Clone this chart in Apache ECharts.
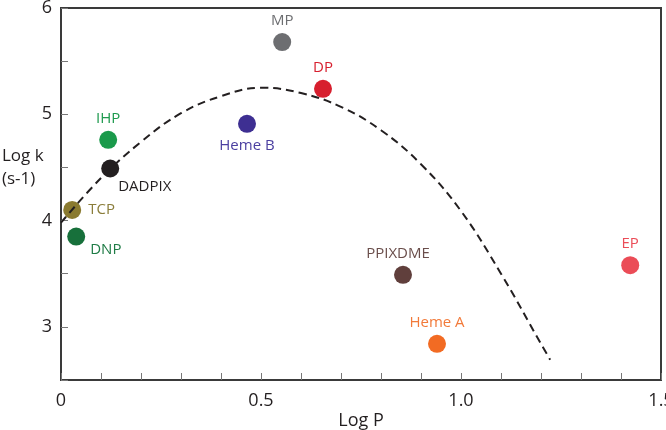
<!DOCTYPE html>
<html lang="en">
<head>
  <meta charset="UTF-8">
  <title>Log k vs Log P</title>
  <script src="https://cdn.jsdelivr.net/npm/echarts@6/dist/echarts.min.js"></script>
</head>
<body style="margin:0">
  <div id="main" style="width: 666px;height: 430px;"></div>
  <script>
    // compounds
    const names = ['MP', 'DP', 'IHP', 'DADPIX', 'Heme B', 'TCP', 'DNP', 'PPIXDME', 'Heme A', 'EP']
    const logP = [0.553, 0.655, 0.118, 0.123, 0.465, 0.028, 0.038, 0.855, 0.94, 1.423]
    const logK = [5.68, 5.24, 4.76, 4.49, 4.91, 4.10, 3.85, 3.49, 2.84, 3.58]

    // dashed trend curve
    const fitP = [0, 0.1, 0.2, 0.3, 0.4, 0.5, 0.6, 0.7, 0.8, 0.9, 1.0, 1.1, 1.2, 1.223]
    const fitK = [3.98, 4.40, 4.74, 5.01, 5.17, 5.25, 5.20, 5.07, 4.85, 4.53, 4.09, 3.50, 2.84, 2.69]

    const xTicks = ['0', '0.5', '1.0', '1.5']
    const yTicks = ['3', '4', '5', '6']

    // styling
    const dotColor = {
      'MP': '#6d6e71', 'DP': '#d71f2e', 'IHP': '#1a9a4b', 'DADPIX': '#231f20', 'Heme B': '#3e2f92',
      'TCP': '#8a7a30', 'DNP': '#17703b', 'PPIXDME': '#603f3c', 'Heme A': '#f26b23', 'EP': '#eb4c57'
    }
    const textColor = {
      'MP': '#6d6e71', 'DP': '#d71f2e', 'IHP': '#1e9a4e', 'DADPIX': '#231f20', 'Heme B': '#4b3fa0',
      'TCP': '#8a7d3a', 'DNP': '#1e7b45', 'PPIXDME': '#6a4e4b', 'Heme A': '#f27a3a', 'EP': '#eb4c57'
    }
    const labelPos = {
      'MP': { position: 'top' },
      'DP': { position: 'top' },
      'IHP': { position: 'top' },
      'DADPIX': { position: 'right', offset: [-6, 18] },
      'Heme B': { position: 'bottom' },
      'TCP': { position: 'right', distance: 7 },
      'DNP': { position: 'right', offset: [0, 13] },
      'PPIXDME': { position: 'top', offset: [-5, 0] },
      'Heme A': { position: 'top' },
      'EP': { position: 'top' }
    }

    const font = '"Open Sans", sans-serif'
    const axisColor = '#3a3a3a'

    const chart = echarts.init(document.getElementById('main'))

    const points = names.map((n, i) => ({
      name: n,
      value: [logP[i], logK[i]],
      itemStyle: { color: dotColor[n], opacity: 1 },
      label: Object.assign({ show: true, formatter: '{b}', color: textColor[n], fontSize: 15, fontFamily: font, distance: 5 }, labelPos[n])
    }))

    const option = {
      animation: false,
      grid: {
        left: 61, right: 5, top: 8, bottom: 50,
        outerBoundsMode: 'none',
        show: true, borderColor: axisColor, borderWidth: 2
      },
      xAxis: {
        type: 'value', min: 0, max: 1.5, interval: 0.1,
        name: 'Log P', nameLocation: 'middle', nameGap: 32, nameMoveOverlap: false,
        nameTextStyle: { fontSize: 18, fontFamily: font, color: '#231f20' },
        axisLine: { lineStyle: { color: axisColor, width: 2 } },
        axisTick: { inside: true, length: 7, lineStyle: { color: '#777' } },
        splitLine: { show: false },
        axisLabel: {
          fontSize: 18, fontFamily: font, color: '#231f20', margin: 12,
          formatter: v => {
            const t = Math.round(v * 10)
            return t % 5 === 0 ? xTicks[t / 5] : ''
          }
        }
      },
      yAxis: {
        type: 'value', min: 2.5, max: 6, interval: 0.5,
        axisLine: { show: true, lineStyle: { color: axisColor, width: 2 } },
        axisTick: { show: true, inside: true, length: 7, lineStyle: { color: '#777' } },
        splitLine: { show: false },
        axisLabel: {
          fontSize: 18, fontFamily: font, color: '#231f20', margin: 9,
          formatter: v => {
            const t = Math.round(v * 2)
            return t % 2 === 0 ? yTicks[t / 2 - 3] : ''
          }
        }
      },
      graphic: [{
        type: 'text', left: 2, top: 145,
        style: {
          text: 'Log k\n(s-1)', fill: '#231f20', font: '17px "Open Sans", sans-serif',
          align: 'center', lineHeight: 23, x: 22
        }
      }],
      series: [
        {
          type: 'line', smooth: 0.4, showSymbol: false, silent: true,
          data: fitP.map((p, i) => [p, fitK[i]]),
          lineStyle: { color: '#231f20', width: 2, type: [8, 5] },
          z: 3
        },
        {
          type: 'scatter', symbolSize: 18,
          data: points,
          z: 2
        }
      ]
    }

    chart.setOption(option)
  </script>
</body>
</html>
